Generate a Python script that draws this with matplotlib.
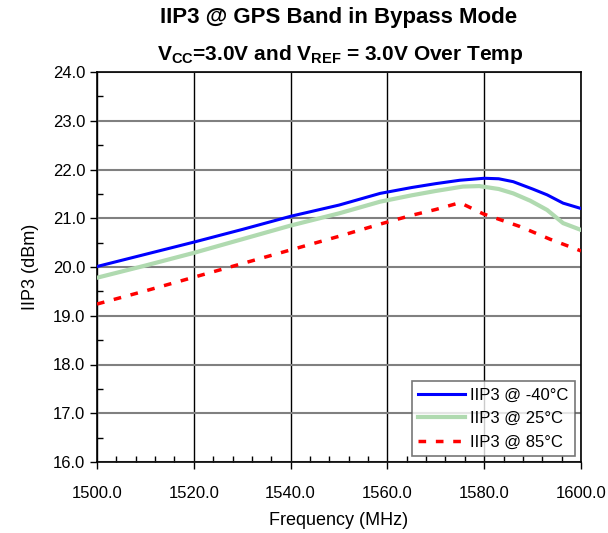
import matplotlib
matplotlib.use("Agg")
import matplotlib.pyplot as plt
from matplotlib.ticker import MultipleLocator, FormatStrFormatter

freq_m40 = [1500, 1510, 1520, 1530, 1540, 1550, 1558.5, 1565, 1570, 1575, 1580, 1583, 1586, 1590, 1593, 1596.3, 1600]
iip3_m40 = [20.01, 20.26, 20.51, 20.77, 21.04, 21.27, 21.51, 21.63, 21.71, 21.78, 21.82, 21.81, 21.75, 21.60, 21.48, 21.31, 21.20]

freq_25 = [1500, 1510, 1520, 1530, 1540, 1550, 1558.5, 1565, 1570, 1575.6, 1579, 1583, 1586, 1589.5, 1593, 1596.3, 1600]
iip3_25 = [19.78, 20.03, 20.29, 20.57, 20.85, 21.10, 21.34, 21.47, 21.56, 21.65, 21.66, 21.60, 21.51, 21.36, 21.17, 20.90, 20.76]

freq_85 = [1500, 1510, 1520, 1530, 1540, 1550, 1558.5, 1565, 1570, 1575, 1579.8, 1587.4, 1593.6, 1600]
iip3_85 = [19.24, 19.51, 19.79, 20.07, 20.35, 20.63, 20.88, 21.06, 21.18, 21.32, 21.09, 20.83, 20.57, 20.33]

labels = ["IIP3 @ -40\u00b0C", "IIP3 @ 25\u00b0C", "IIP3 @ 85\u00b0C"]
x_ticks = [1500.0, 1520.0, 1540.0, 1560.0, 1580.0, 1600.0]
y_ticks = [16.0, 17.0, 18.0, 19.0, 20.0, 21.0, 22.0, 23.0, 24.0]

plt.rcParams['font.family'] = ['Liberation Sans', 'DejaVu Sans']
plt.rcParams['mathtext.fontset'] = 'custom'
plt.rcParams['mathtext.rm'] = 'Liberation Sans'
plt.rcParams['mathtext.bf'] = 'Liberation Sans:bold'
plt.rcParams['mathtext.it'] = 'Liberation Sans:italic'

fig = plt.figure(figsize=(6.08, 5.33), dpi=100)
ax = fig.add_axes([97/608, 1 - 462/533, (581-97)/608, (462-72)/533])

ax.plot(freq_m40, iip3_m40, color='#0000ff', lw=2.2, label=labels[0], zorder=5)
ax.plot(freq_25, iip3_25, color='#b0dab0', lw=3.0, label=labels[1], zorder=4)
ax.plot(freq_85, iip3_85, color='#ff0000', lw=2.5, ls=(0, (2.2, 2.8)), label=labels[2], zorder=3)

ax.set_xlim(1500, 1600)
ax.set_ylim(16, 24)
ax.set_xticks(x_ticks)
ax.set_yticks(y_ticks)
ax.xaxis.set_minor_locator(MultipleLocator(4))
ax.yaxis.set_minor_locator(MultipleLocator(0.5))
ax.xaxis.set_major_formatter(FormatStrFormatter('%.1f'))
ax.yaxis.set_major_formatter(FormatStrFormatter('%.1f'))

ax.grid(True, axis='x', which='major', color='black', lw=1.0)
ax.grid(True, axis='y', which='major', color='#808080', lw=1.5)
ax.set_axisbelow(True)

ax.tick_params(axis='both', which='major', direction='out', length=5, width=1, labelsize=12, color='black')
ax.tick_params(axis='both', which='minor', direction='in', length=4, width=1)
ax.tick_params(axis='x', which='major', pad=12)
for s in ax.spines.values():
    s.set_color('black')
    s.set_linewidth(1.2)

ax.set_xlabel("Frequency (MHz)", fontsize=13, labelpad=8)
ax.set_ylabel("IIP3 (dBm)", fontsize=13, labelpad=10)

fig.text(339/608, 1 - 18/533, "IIP3 @ GPS Band in Bypass Mode", ha='center', va='center',
         fontsize=16, fontweight='bold')
fig.text(340/608, 1 - 54/533, r"V$_{\mathbf{CC}}$=3.0V and V$_{\mathbf{REF}}$ = 3.0V Over Temp", ha='center', va='center',
         fontsize=15, fontweight='bold')

leg = ax.legend(loc='lower right', fontsize=12, frameon=True, fancybox=False, edgecolor='#555555',
                handlelength=2.8, borderpad=0.4, labelspacing=0.5, handletextpad=0.3,
                borderaxespad=0.35)
leg.get_frame().set_linewidth(1.2)

fig.savefig("out.png", dpi=100)
